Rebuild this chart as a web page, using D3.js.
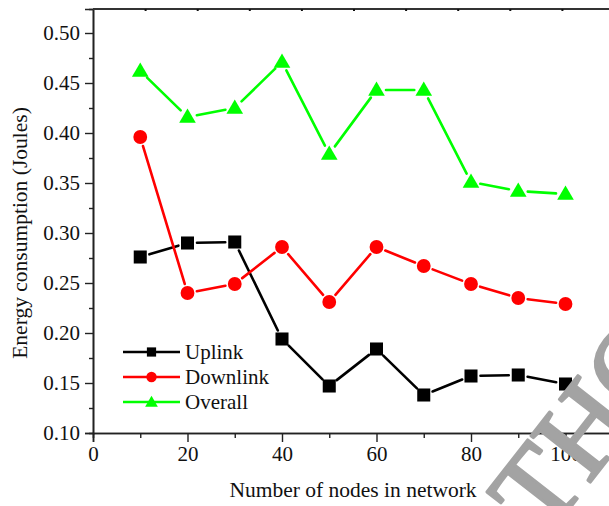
<!DOCTYPE html>
<html>
<head>
<meta charset="utf-8">
<script src="https://cdn.jsdelivr.net/npm/d3@7"></script>
<style>
  body { margin: 0; background: #fff; }
  svg { display: block; font-family: "Liberation Serif", "Times New Roman", serif; }
</style>
</head>
<body>
<div id="chart"></div>
<script>
const nodes = [10, 20, 30, 40, 50, 60, 70, 80, 90, 100];
const uplink = [0.276, 0.290, 0.291, 0.194, 0.147, 0.184, 0.138, 0.157, 0.158, 0.149];
const downlink = [0.396, 0.240, 0.249, 0.286, 0.231, 0.286, 0.267, 0.249, 0.235, 0.229];
const overall = [0.462, 0.416, 0.425, 0.471, 0.379, 0.443, 0.443, 0.351, 0.342, 0.339];
const seriesNames = ['Uplink', 'Downlink', 'Overall'];
const seriesColors = ['#000000', '#ff0000', '#00ff00'];
const xTicks = [0, 20, 40, 60, 80, 100];
const yTicks = [0.10, 0.15, 0.20, 0.25, 0.30, 0.35, 0.40, 0.45, 0.50];

const width = 609, height = 506;
const margin = { left: 93, top: 9, bottom: 73 };

const svg = d3.select('#chart').append('svg')
  .attr('width', width)
  .attr('height', height);

const x = d3.scaleLinear().domain([0, 110]).range([margin.left, margin.left + 110 * 4.725]);
const y = d3.scaleLinear().domain([0.10, 0.524]).range([height - margin.bottom, margin.top]);
const xTop = d3.scaleLinear().domain([0, 11]).range([margin.left, margin.left + 52.1]);

const axisColor = '#222';

// bottom axis: minor ticks first, then labelled majors
const gx = svg.append('g').attr('transform', `translate(0,${y(0.10)})`);
gx.call(d3.axisBottom(x).tickValues(d3.range(10, 110, 20)).tickSize(5).tickFormat(''));
gx.call(g => g.append('g').call(d3.axisBottom(x).tickValues(xTicks).tickSize(9).tickFormat(d3.format('d'))));
gx.selectAll('.domain').attr('stroke', axisColor).attr('stroke-width', 1.6);
gx.selectAll('line').attr('stroke', axisColor).attr('stroke-width', 1.4);
gx.selectAll('text')
  .attr('fill', '#111')
  .attr('font-size', 21)
  .attr('font-family', '"Liberation Serif", serif')
  .attr('y', 13)
  .attr('dy', '0.71em');

// left axis
const gy = svg.append('g').attr('transform', `translate(${margin.left},0)`);
gy.call(d3.axisLeft(y).tickValues(d3.range(0.125, 0.524, 0.05)).tickSize(4).tickFormat(''));
gy.call(g => g.append('g').call(d3.axisLeft(y).tickValues(yTicks).tickSize(8).tickFormat(d3.format('.2f'))));
gy.selectAll('.domain').attr('stroke', axisColor).attr('stroke-width', 1.6);
gy.selectAll('line').attr('stroke', axisColor).attr('stroke-width', 1.4);
gy.selectAll('text')
  .attr('fill', '#111')
  .attr('font-size', 21)
  .attr('font-family', '"Liberation Serif", serif')
  .attr('x', -13);

// top axis line with small ticks
const gt = svg.append('g').attr('transform', `translate(0,${margin.top})`);
gt.call(d3.axisBottom(xTop).tickValues(d3.range(11, 121, 11)).tickSize(2).tickSizeOuter(0).tickFormat(''));
gt.selectAll('.domain').attr('stroke', '#333').attr('stroke-width', 2.2).attr('d', `M${margin.left},0H${width}`);
gt.selectAll('line').attr('stroke', '#111').attr('stroke-width', 2);

// axis titles
svg.append('text')
  .attr('x', 353)
  .attr('y', 497)
  .attr('text-anchor', 'middle')
  .attr('font-size', 21.5)
  .attr('fill', '#111')
  .text('Number of nodes in network');

svg.append('text')
  .attr('transform', 'translate(27,233) rotate(-90)')
  .attr('text-anchor', 'middle')
  .attr('font-size', 21.5)
  .attr('fill', '#111')
  .text('Energy consumption (Joules)');

// series
const series = [uplink, downlink, overall].map((vals, i) => ({
  name: seriesNames[i],
  color: seriesColors[i],
  symbol: [d3.symbolSquare, d3.symbolCircle, d3.symbolTriangle][i],
  size: [170, 150, 120][i],
  legendSize: [85, 85, 70][i],
  points: vals.map((v, j) => ({ px: x(nodes[j]), py: y(v) }))
}));

const gap = 9.5;
series.forEach(s => {
  const g = svg.append('g');
  const segs = d3.pairs(s.points).map(([a, b]) => {
    const dx = b.px - a.px, dy = b.py - a.py;
    const len = Math.hypot(dx, dy);
    const ux = dx / len, uy = dy / len;
    return [a.px + ux * gap, a.py + uy * gap, b.px - ux * gap, b.py - uy * gap];
  });
  g.selectAll('line').data(segs).enter().append('line')
    .attr('x1', d => d[0]).attr('y1', d => d[1])
    .attr('x2', d => d[2]).attr('y2', d => d[3])
    .attr('stroke', s.color)
    .attr('stroke-width', 2.6)
    .attr('stroke-linecap', 'round');
  g.selectAll('path').data(s.points).enter().append('path')
    .attr('transform', d => `translate(${d.px},${d.py + (s.symbol === d3.symbolTriangle ? 1 : 0)})`)
    .attr('d', d3.symbol().type(s.symbol).size(s.size))
    .attr('fill', s.color);
});

// legend
const legend = svg.append('g').attr('transform', 'translate(123,352)');
series.forEach((s, i) => {
  const row = legend.append('g').attr('transform', `translate(0,${i * 25})`);
  row.append('line')
    .attr('x1', 0).attr('x2', 57)
    .attr('stroke', s.color)
    .attr('stroke-width', 2.6);
  row.append('path')
    .attr('transform', `translate(28.5,${s.symbol === d3.symbolTriangle ? 1 : 0})`)
    .attr('d', d3.symbol().type(s.symbol).size(s.legendSize))
    .attr('fill', s.color);
  row.append('text')
    .attr('x', 62)
    .attr('dy', '0.33em')
    .attr('font-size', 21)
    .attr('fill', '#111')
    .text(s.name);
});

// watermark over the corner
svg.append('text')
  .attr('transform', 'translate(545,540) rotate(-52)')
  .attr('font-size', 115)
  .attr('fill', '#a3a3a3')
  .attr('stroke', '#a3a3a3')
  .attr('stroke-width', 3)
  .attr('stroke-linejoin', 'round')
  .text('THOR');
</script>
</body>
</html>
